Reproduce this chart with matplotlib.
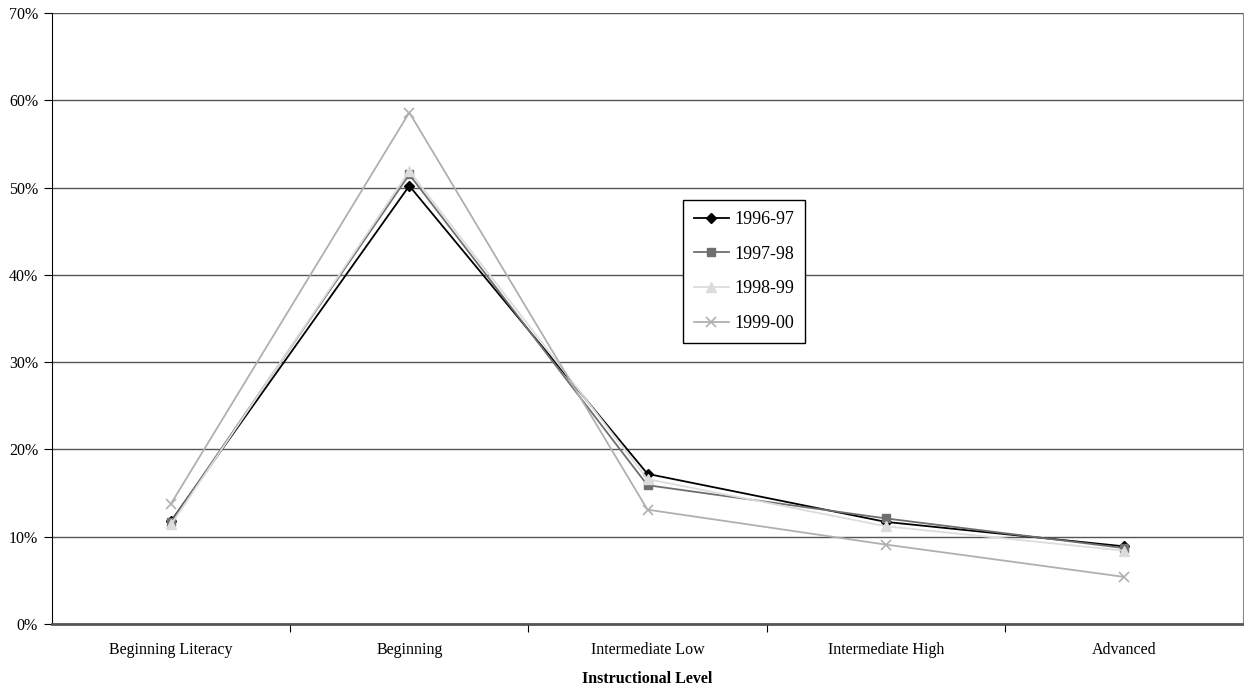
import matplotlib
matplotlib.use("Agg")
import matplotlib.pyplot as plt
from matplotlib.ticker import PercentFormatter

# --- Data ---
levels = ["Beginning Literacy", "Beginning", "Intermediate Low",
          "Intermediate High", "Advanced"]
years = ["1996-97", "1997-98", "1998-99", "1999-00"]
pct_1996 = [11.8, 50.2, 17.2, 11.7, 8.9]
pct_1997 = [11.7, 51.5, 15.9, 12.1, 8.7]
pct_1998 = [11.4, 51.9, 16.6, 11.2, 8.4]
pct_1999 = [13.8, 58.6, 13.1, 9.1, 5.4]

# --- Styles ---
STYLES = [
    dict(color="black", marker="D", markersize=5),
    dict(color="#6e6e6e", marker="s", markersize=6),
    dict(color="#dcdcdc", marker="^", markersize=7),
    dict(color="#b0b0b0", marker="x", markersize=7, markeredgewidth=1.2),
]

plt.rcParams["font.family"] = ["Liberation Serif", "DejaVu Serif"]
plt.rcParams["font.size"] = 11.5

fig = plt.figure(figsize=(12.44, 6.92), dpi=100)
ax = fig.add_axes([52 / 1244, 68 / 692, 1191 / 1244, 611 / 692])

x = range(len(levels))
for label, vals, style in zip(years, [pct_1996, pct_1997, pct_1998, pct_1999], STYLES):
    ax.plot(x, vals, label=label, linewidth=1.3, **style)

ax.set_xlim(-0.5, len(levels) - 0.5)
ax.set_ylim(0, 70)
ax.set_yticks(range(0, 71, 10))
ax.yaxis.set_major_formatter(PercentFormatter(decimals=0))
ax.yaxis.grid(True, color="#555555", linewidth=1.0)
ax.set_axisbelow(True)

# category labels centred, ticks between categories
ax.set_xticks([i + 0.5 for i in range(len(levels) - 1)])
ax.set_xticklabels([])
ax.set_xticks(list(x), minor=True)
ax.set_xticklabels(levels, minor=True)
ax.tick_params(axis="x", which="minor", length=0, pad=13)
ax.tick_params(axis="x", which="major", length=6, direction="out", color="black")
ax.tick_params(axis="y", length=6, direction="out", pad=4)

ax.spines["top"].set_visible(False)
ax.spines["right"].set_color("#888888")
ax.spines["left"].set_color("black")
ax.spines["bottom"].set_color("#555555")
ax.spines["bottom"].set_linewidth(2)

ax.set_xlabel("Instructional Level", fontweight="bold", labelpad=9)

leg = ax.legend(loc="upper left", bbox_to_anchor=(683 / 1244, 1 - 200 / 692),
                bbox_transform=fig.transFigure, frameon=True, fancybox=False,
                edgecolor="black", framealpha=1, fontsize=13,
                handlelength=1.95, handletextpad=0.3, labelspacing=0.98,
                borderpad=0.6, borderaxespad=0)
leg.get_frame().set_linewidth(1.0)

fig.savefig("out.png", dpi=100)
